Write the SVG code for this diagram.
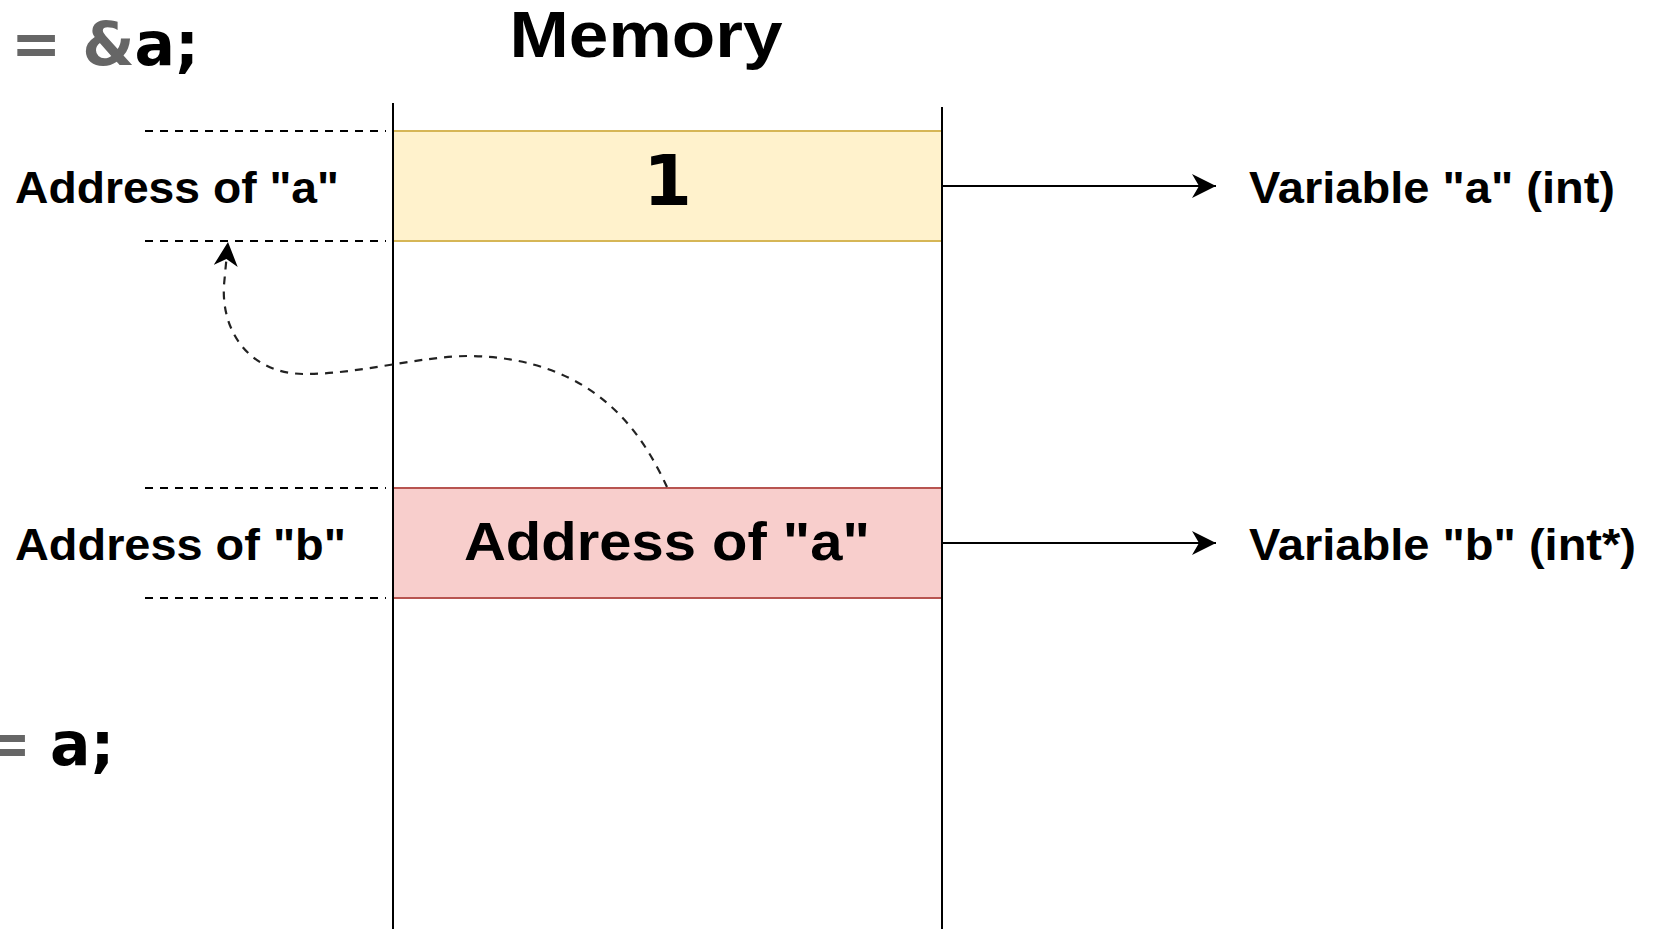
<svg xmlns="http://www.w3.org/2000/svg" width="1653" height="929" viewBox="0 0 1653 929">
  <style>
    .lbl { font-family: "Liberation Sans", Arial, Helvetica, sans-serif; font-weight: bold; fill: #000; }
    .code { font-family: "DejaVu Sans", Verdana, sans-serif; font-weight: bold; font-size: 60px; }
    .op { fill: #666666; }
    .id { fill: #000000; }
    .wall { stroke: #000; stroke-width: 2; fill: none; }
    .guide { stroke: #000; stroke-width: 2; stroke-dasharray: 8 7; fill: none; }
    .link { stroke: #000; stroke-width: 2; fill: none; marker-end: url(#head); }
    .ptr { stroke: #222; stroke-width: 2.2; stroke-dasharray: 8 7; fill: none; marker-end: url(#head); }
  </style>
  <defs>
    <marker id="head" markerUnits="userSpaceOnUse" markerWidth="30" markerHeight="30" refX="24" refY="12" orient="auto">
      <path d="M24,12 L0,0 L7,12 L0,24 Z" fill="#000"/>
    </marker>
  </defs>

  <rect width="1653" height="929" fill="#ffffff"/>

  <!-- code snippet fragments on the left edge -->
  <g id="code-line-1">
    <text class="code" y="65"><tspan class="op" x="11">= &amp;</tspan><tspan class="id">a;</tspan></text>
  </g>
  <g id="code-line-2">
    <text class="code" y="765"><tspan class="op" x="-19">=</tspan><tspan class="id" x="50">a;</tspan></text>
  </g>

  <!-- title -->
  <g id="title">
    <text class="lbl" x="646" y="57" font-size="64" text-anchor="middle" textLength="273" lengthAdjust="spacingAndGlyphs">Memory</text>
  </g>

  <!-- memory cells -->
  <g id="cell-a">
    <rect x="393" y="131" width="549" height="110" fill="#fff2cc" stroke="#d6b656" stroke-width="2"/>
    <text x="667.5" y="205" font-family="'DejaVu Sans', Verdana, sans-serif" font-weight="bold" font-size="70" text-anchor="middle">1</text>
  </g>
  <g id="cell-b">
    <rect x="393" y="488" width="549" height="110" fill="#f8cecc" stroke="#b85450" stroke-width="2"/>
    <text class="lbl" x="667" y="560" font-size="54" text-anchor="middle" textLength="406" lengthAdjust="spacingAndGlyphs">Address of "a"</text>
  </g>

  <!-- memory column walls -->
  <g id="memory-walls">
    <line class="wall" x1="393" y1="103" x2="393" y2="929"/>
    <line class="wall" x1="942" y1="107" x2="942" y2="929"/>
  </g>

  <!-- address guides -->
  <g id="address-guides">
    <line class="guide" x1="145" y1="131" x2="386" y2="131"/>
    <line class="guide" x1="145" y1="241" x2="386" y2="241"/>
    <line class="guide" x1="145" y1="488" x2="386" y2="488"/>
    <line class="guide" x1="145" y1="598" x2="386" y2="598"/>
  </g>

  <g id="addr-a-label">
    <text class="lbl" x="15" y="203" font-size="44" textLength="324" lengthAdjust="spacingAndGlyphs">Address of "a"</text>
  </g>
  <g id="addr-b-label">
    <text class="lbl" x="15" y="560" font-size="44" textLength="331" lengthAdjust="spacingAndGlyphs">Address of "b"</text>
  </g>

  <g id="var-a-label">
    <text class="lbl" x="1249" y="203" font-size="44" textLength="366" lengthAdjust="spacingAndGlyphs">Variable "a" (int)</text>
  </g>
  <g id="var-b-label">
    <text class="lbl" x="1249" y="560" font-size="44" textLength="387" lengthAdjust="spacingAndGlyphs">Variable "b" (int*)</text>
  </g>

  <!-- connectors -->
  <g id="connectors">
    <line class="link" x1="943" y1="186" x2="1216" y2="186"/>
    <line class="link" x1="943" y1="543" x2="1216" y2="543"/>
    <path class="ptr" d="M667,487 C645,440 600,358 470,356 C420,356 360,374 305,374 C250,374 221,332 224,285 L228,242"/>
  </g>
</svg>
